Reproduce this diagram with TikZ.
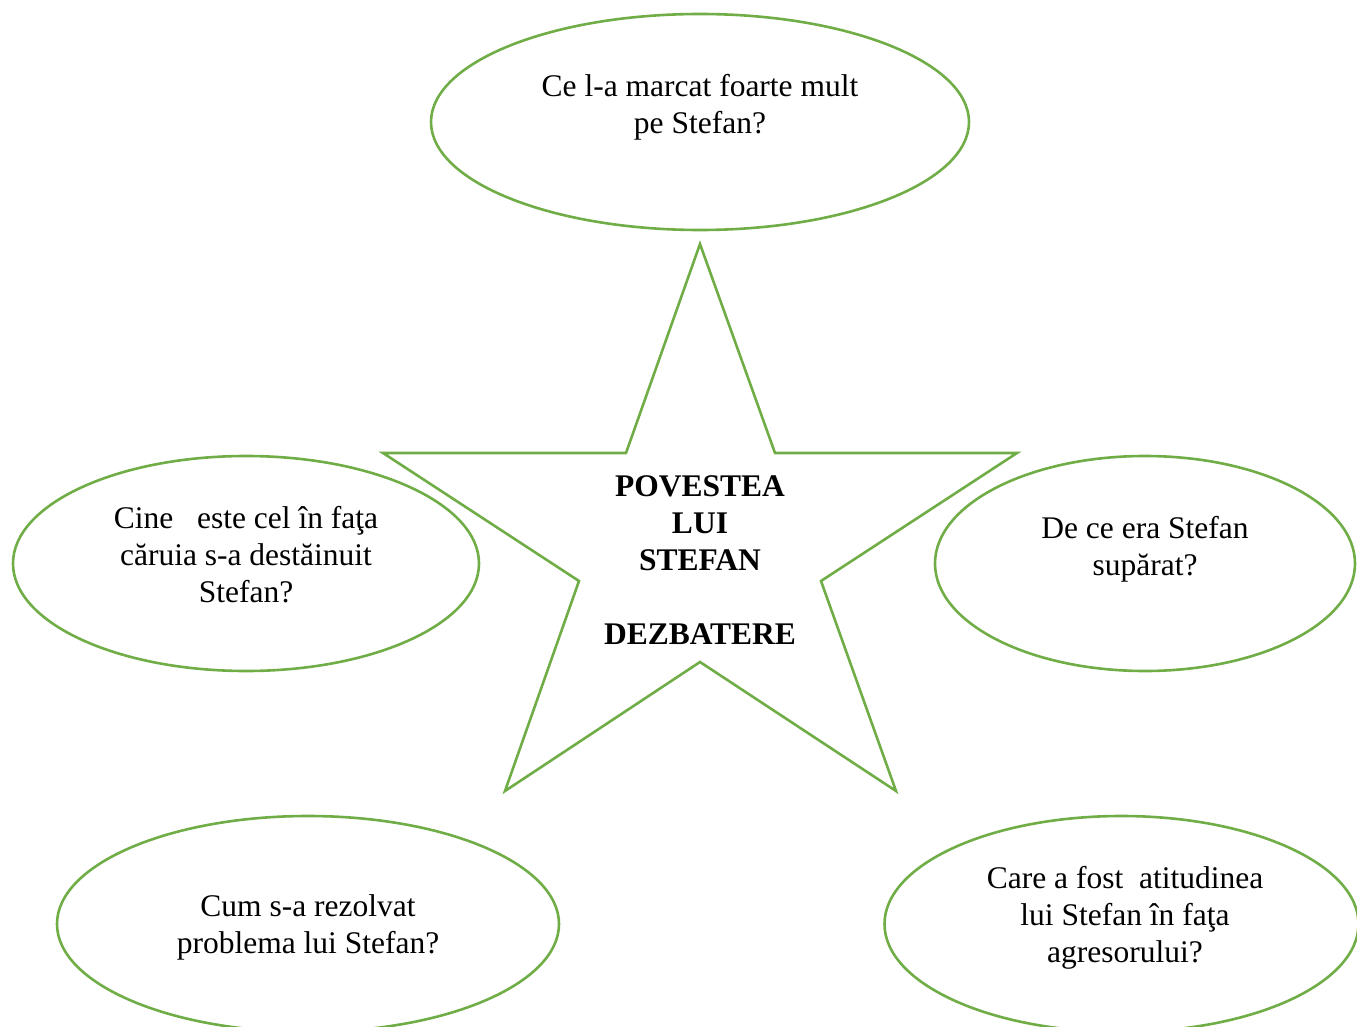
\documentclass[tikz,border=0pt]{standalone}
\usepackage{fontspec}
\setmainfont{Liberation Serif}
\usetikzlibrary{shapes.geometric}
\definecolor{ogreen}{RGB}{112,173,71}
\begin{document}
\begin{tikzpicture}[x=1pt,y=-1pt,
  bubble/.style={draw=ogreen,line width=2.6pt,ellipse,inner sep=0pt},
  qtext/.style={align=center,font=\fontsize{31.5}{37}\selectfont,inner sep=0pt},
  ttext/.style={align=center,font=\fontsize{31.5}{37}\selectfont\bfseries,inner sep=0pt}]
\useasboundingbox (0,0) rectangle (1357,1027);
% ellipses
\node[bubble,minimum width=538pt,minimum height=216pt] (e1) at (700,122) {};
\node[bubble,minimum width=466pt,minimum height=215pt] (e2) at (246,563.5) {};
\node[bubble,minimum width=420pt,minimum height=215pt] (e3) at (1145,563.5) {};
\node[bubble,minimum width=502pt,minimum height=216pt] (e4) at (308,924) {};
\node[bubble,minimum width=474pt,minimum height=216pt] (e5) at (1121.5,924) {};
% star
\draw[draw=ogreen,line width=2.6pt,line join=miter]
  (700,244) -- (775,453) -- (1017,453) -- (821,581) -- (896,791)
  -- (700,662) -- (505,791) -- (579,581) -- (383,453) -- (626,453) -- cycle;
% texts
\node[qtext] (t1) at (700,107) {Ce l-a marcat foarte mult\\pe Stefan?};
\node[qtext] (t2) at (246,554.5) {Cine\ \ \ este cel în faţa\\căruia s-a destăinuit\\Stefan?};
\node[qtext] (t3) at (1145,549) {De ce era Stefan\\supărat?};
\node[qtext] (t4) at (308,927) {Cum s-a rezolvat\\problema lui Stefan?};
\node[qtext] (t5) at (1125,918) {Care a fost\ \ atitudinea\\lui Stefan în faţa\\agresorului?};
\node[ttext] (ts) at (700,560) {POVESTEA\\LUI\\STEFAN\\[37pt]DEZBATERE};
\end{tikzpicture}
\end{document}
